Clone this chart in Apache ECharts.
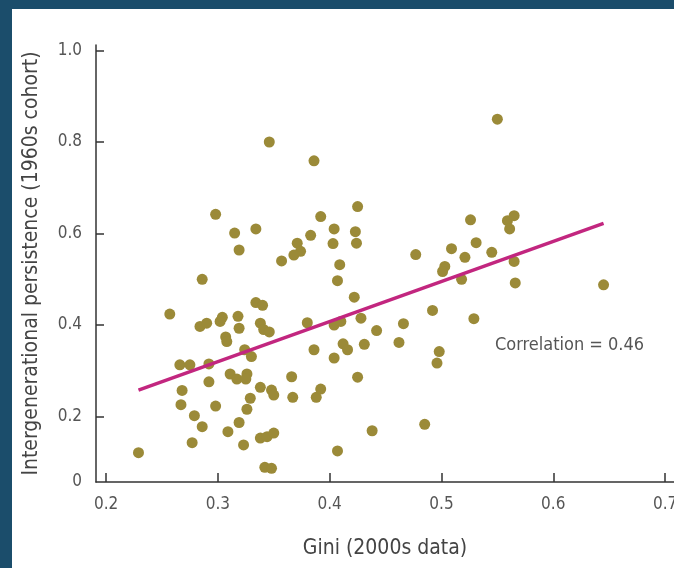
<!DOCTYPE html>
<html>
<head>
<meta charset="utf-8">
<script src="https://cdn.jsdelivr.net/npm/echarts@6/dist/echarts.min.js"></script>
<style>
  html, body { margin: 0; padding: 0; background: #1b4d6b; }
  #wrap { position: absolute; left: 12px; top: 9px; width: 662px; height: 559px; background: #ffffff; }
  #chart { width: 662px; height: 559px; }
</style>
</head>
<body>
<div id="wrap"><div id="chart"></div></div>
<script>
// Gini coefficient (2000s data) for each country
const gini = [
  0.346, 0.298, 0.315, 0.334, 0.319, 0.357, 0.286, 0.257, 0.334, 0.340,
  0.284, 0.290, 0.302, 0.304, 0.318, 0.319, 0.338, 0.341, 0.346, 0.307,
  0.308, 0.324, 0.330, 0.266, 0.275, 0.292, 0.311, 0.317, 0.326, 0.325,
  0.292, 0.268, 0.338, 0.348, 0.350, 0.267, 0.298, 0.329, 0.326, 0.279,
  0.286, 0.319, 0.309, 0.277, 0.323, 0.338, 0.344, 0.350, 0.229, 0.342,
  0.348, 0.386, 0.425, 0.392, 0.404, 0.423, 0.383, 0.403, 0.424, 0.371,
  0.374, 0.368, 0.409, 0.407, 0.477, 0.526, 0.531, 0.509, 0.521, 0.503,
  0.501, 0.518, 0.422, 0.380, 0.404, 0.410, 0.428, 0.442, 0.466, 0.492,
  0.529, 0.386, 0.412, 0.416, 0.404, 0.431, 0.462, 0.498, 0.496, 0.366,
  0.367, 0.388, 0.392, 0.425, 0.438, 0.485, 0.407, 0.550, 0.559, 0.565,
  0.561, 0.545, 0.565, 0.566, 0.645
];

// Intergenerational persistence (1960s cohort), same order as gini
const persistence = [
  0.800, 0.642, 0.601, 0.610, 0.564, 0.540, 0.500, 0.424, 0.449, 0.443,
  0.397, 0.404, 0.408, 0.417, 0.419, 0.393, 0.404, 0.390, 0.385, 0.374,
  0.364, 0.346, 0.331, 0.313, 0.313, 0.315, 0.293, 0.282, 0.293, 0.282,
  0.276, 0.257, 0.264, 0.258, 0.247, 0.226, 0.223, 0.240, 0.216, 0.202,
  0.178, 0.187, 0.167, 0.143, 0.138, 0.153, 0.156, 0.164, 0.121, 0.089,
  0.087, 0.759, 0.659, 0.637, 0.610, 0.604, 0.596, 0.578, 0.579, 0.579,
  0.561, 0.553, 0.532, 0.497, 0.554, 0.630, 0.580, 0.567, 0.548, 0.528,
  0.517, 0.500, 0.461, 0.405, 0.400, 0.408, 0.415, 0.388, 0.403, 0.432,
  0.414, 0.346, 0.359, 0.346, 0.328, 0.358, 0.362, 0.342, 0.317, 0.287,
  0.242, 0.242, 0.260, 0.286, 0.169, 0.183, 0.125, 0.850, 0.628, 0.639,
  0.610, 0.559, 0.539, 0.492, 0.488
];

// Fitted line end points
const fitGini = [0.229, 0.645];
const fitPersistence = [0.258, 0.622];

const correlationText = 'Correlation = 0.46';

// Tick values
const xTicks = [0.2, 0.3, 0.4, 0.5, 0.6, 0.7];
const yTicks = [0.2, 0.4, 0.6, 0.8, 1.0];
const yBase = 0.057;   // bottom of the vertical axis, labelled "0"

const FONT = "'Liberation Sans Narrow', 'DejaVu Sans Condensed', 'Liberation Sans', Arial, sans-serif";
const AXIS_COLOR = '#333333';
const LABEL_COLOR = '#555555';

const points = gini.map((g, i) => [g, persistence[i]]);
const fitLine = fitGini.map((g, i) => [g, fitPersistence[i]]);

const chart = echarts.init(document.getElementById('chart'), null, { renderer: 'canvas' });

chart.setOption({
  animation: false,
  backgroundColor: '#ffffff',
  grid: { left: 84, right: 0, top: 36, bottom: 86, containLabel: false, outerBoundsMode: 'none' },
  xAxis: {
    type: 'value',
    min: 0.191,
    max: 0.708,
    name: 'Gini (2000s data)',
    nameLocation: 'middle',
    nameGap: 56,
    nameTextStyle: { fontFamily: FONT, fontSize: 21, color: '#444444' },
    splitLine: { show: false },
    axisLine: { show: true, onZero: false, lineStyle: { color: AXIS_COLOR, width: 1.5 } },
    axisTick: { show: true, inside: true, length: 9, customValues: xTicks, lineStyle: { color: AXIS_COLOR, width: 1.5 } },
    axisLabel: {
      customValues: xTicks,
      formatter: v => v.toFixed(1),
      hideOverlap: false,
      fontFamily: FONT, fontSize: 17, color: LABEL_COLOR, margin: 14
    }
  },
  yAxis: {
    type: 'value',
    min: yBase,
    max: 1.012,
    name: 'Intergenerational persistence (1960s cohort)',
    nameLocation: 'middle',
    nameGap: 54,
    nameRotate: 90,
    nameTextStyle: { fontFamily: FONT, fontSize: 21, color: '#444444' },
    splitLine: { show: false },
    axisLine: { show: true, onZero: false, lineStyle: { color: AXIS_COLOR, width: 1.5 } },
    axisTick: { show: true, inside: true, length: 8, customValues: yTicks, lineStyle: { color: AXIS_COLOR, width: 1.5 } },
    axisLabel: {
      customValues: [yBase].concat(yTicks),
      formatter: v => (v < 0.1 ? '0' : v.toFixed(1)),
      hideOverlap: false,
      fontFamily: FONT, fontSize: 17, color: LABEL_COLOR, margin: 14
    }
  },
  series: [
    {
      type: 'scatter',
      data: points,
      symbol: 'circle',
      symbolSize: 11,
      itemStyle: { color: '#9b8a38', opacity: 1 },
      z: 2
    },
    {
      type: 'line',
      data: fitLine,
      symbol: 'none',
      lineStyle: { color: '#c2267f', width: 3.5 },
      z: 3
    }
  ],
  graphic: [
    {
      type: 'text',
      left: 483,
      top: 327,
      style: { text: correlationText, font: '18px ' + FONT, fill: '#555555' }
    }
  ]
});
</script>
</body>
</html>
